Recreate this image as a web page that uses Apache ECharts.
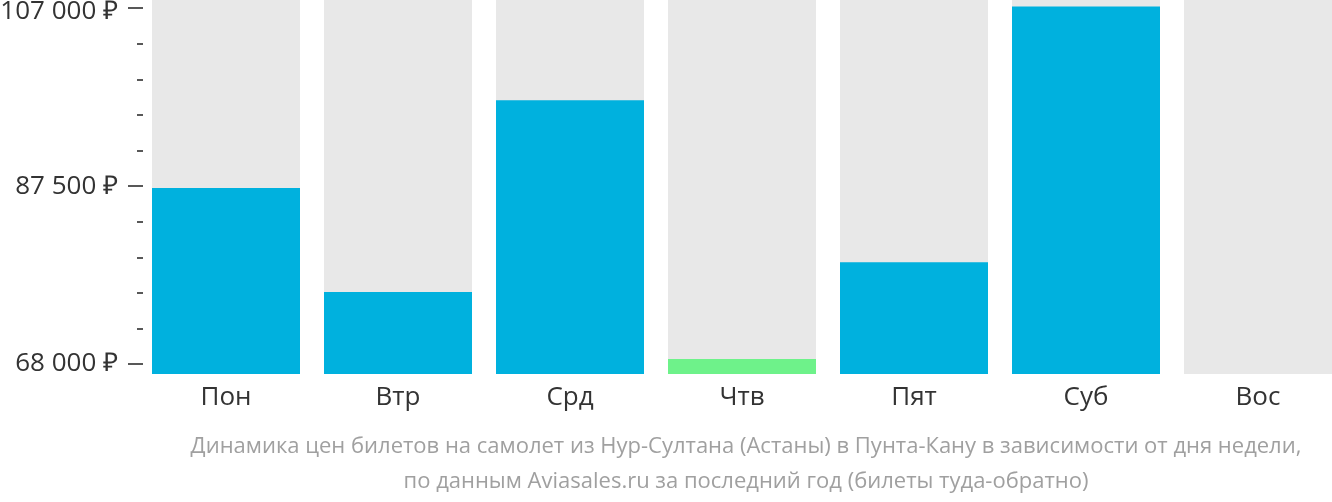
<!DOCTYPE html>
<html>
<head>
<meta charset="utf-8">
<script src="https://cdn.jsdelivr.net/npm/echarts@6/dist/echarts.min.js"></script>
<style>
html,body{margin:0;padding:0;background:#fff;}
#c{width:1332px;height:502px;}
</style>
</head>
<body>
<div id="c"></div>
<script>
const categories = ['Пон', 'Втр', 'Срд', 'Чтв', 'Пят', 'Суб', 'Вос'];
const prices = [87300, 75900, 96900, 68550, 79150, 107200, null];
const majorTicks = [68000, 87500, 107000];
const minorTicks = [68000, 71900, 75800, 79700, 83600, 87500, 91400, 95300, 99200, 103100, 107000];
const titleLines = [
  'Динамика цен билетов на самолет из Нур-Султана (Астаны) в Пунта-Кану в зависимости от дня недели,',
  'по данным Aviasales.ru за последний год (билеты туда-обратно)'
];

const axisMin = 66904;
const axisMax = 107900;
const validPrices = prices.filter(v => v != null);
const minPrice = Math.min.apply(null, validPrices);
const topTick = Math.max.apply(null, majorTicks);

const fmtNum = v => String(v).replace(/\B(?=(\d{3})+(?!\d))/g, ' ') + ' ₽';
const fmt = v => (v === topTick ? '{t|' + fmtNum(v) + '}' : fmtNum(v));

const chart = echarts.init(document.getElementById('c'), null, {renderer: 'canvas'});
chart.setOption({
  animation: false,
  backgroundColor: '#fff',
  textStyle: {fontFamily: 'Open Sans'},
  title: {
    text: titleLines.join('\n'),
    left: 741,
    top: 424,
    textAlign: 'center',
    textStyle: {
      fontFamily: 'Open Sans',
      fontSize: 22,
      fontWeight: 'normal',
      color: '#a0a0a0',
      lineHeight: 35
    }
  },
  grid: {left: 140, top: 0, width: 1204, height: 374, containLabel: false, outerBoundsMode: 'none'},
  xAxis: {
    type: 'category',
    data: categories,
    axisLine: {show: false},
    axisTick: {show: false},
    axisLabel: {
      margin: 11,
      fontSize: 26,
      color: '#333',
      fontFamily: 'Open Sans'
    }
  },
  yAxis: [{
    type: 'value',
    min: axisMin,
    max: axisMax,
    offset: -3,
    splitLine: {show: false},
    axisLine: {show: false},
    axisTick: {
      show: true,
      length: 15,
      customValues: majorTicks,
      lineStyle: {color: '#222', width: 1.5}
    },
    axisLabel: {
      margin: 25,
      fontSize: 26,
      color: '#333',
      fontFamily: 'Open Sans',
      customValues: majorTicks,
      formatter: fmt,
      rich: {
        t: {
          fontSize: 26,
          color: '#333',
          fontFamily: 'Open Sans',
          padding: [6, 0, 0, 0]
        }
      }
    }
  }, {
    type: 'value',
    min: axisMin,
    max: axisMax,
    position: 'left',
    offset: -3,
    splitLine: {show: false},
    axisLine: {show: false},
    axisTick: {
      show: true,
      length: 6,
      customValues: minorTicks,
      lineStyle: {color: '#222', width: 1.5}
    },
    axisLabel: {show: false}
  }],
  series: [{
    type: 'bar',
    data: prices,
    barWidth: 148,
    showBackground: true,
    backgroundStyle: {color: '#e8e8e8'},
    itemStyle: {
      color: p => (p.value === minPrice ? '#6ef28a' : '#00b1de')
    }
  }]
});
</script>
</body>
</html>
